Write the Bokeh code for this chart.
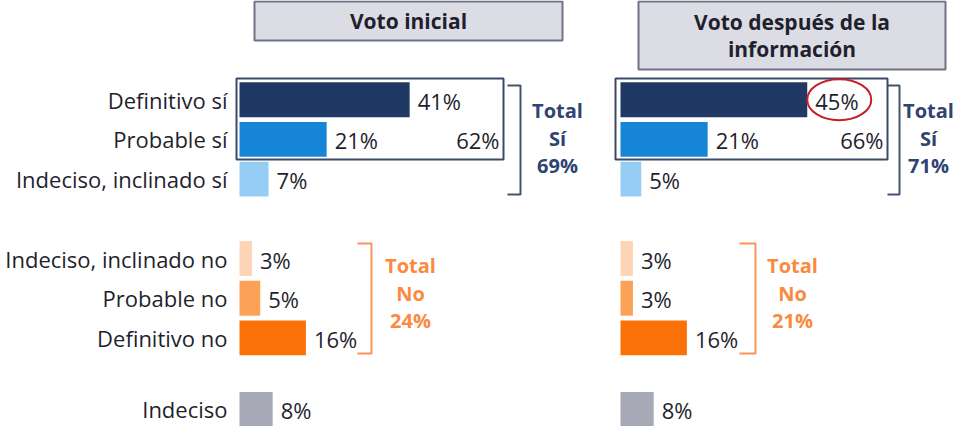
from bokeh.plotting import figure
from bokeh.models import Range1d, FixedTicker
from bokeh.embed import file_html
from bokeh.resources import INLINE
from bokeh.core.properties import value

# ---------------- data ----------------
categories = ["Definitivo sí", "Probable sí", "Indeciso, inclinado sí",
              "Indeciso, inclinado no", "Probable no", "Definitivo no", "Indeciso"]
row_pos = [0, 1, 2, 4, 5, 6, 7.8]
voto_inicial = [41, 21, 7, 3, 5, 16, 8]
voto_despues = [45, 21, 5, 3, 3, 16, 8]
bar_colors = ["#1f3864", "#1785d5", "#95cdf4", "#fdd5b6", "#fca257", "#fa7207", "#a8a9b6"]
titles_inicial = ["Voto inicial"]
titles_despues = ["Voto después de la", "información"]
box_totals = [62, 66]      # Definitivo sí + Probable sí
total_si = [69, 71]
total_no = [24, 21]

# ---------------- layout helpers (pixel -> data) ----------------
PX = 4.15            # pixels per percentage point
PITCH = 39.7         # pixels per row
ROW0 = 107.2         # image y of first row centre
LZERO, RZERO = 247, 628
FRAME_L, FRAME_R, FRAME_T, FRAME_B = 240, 966, 8, 434

def lx(px):
    return (px - LZERO) / PX

def rx(px):
    return (px - RZERO) / PX

def yy(py):
    return (py - ROW0) / PITCH

FONT = "Open Sans"
TXT = "#1f1f2e"
NAVY = "#2f4470"
ORANGE = "#f98a40"
FS = "22px"

p = figure(width=958, height=426, output_backend="svg", toolbar_location=None,
           x_range=Range1d(lx(FRAME_L), lx(FRAME_R)),
           y_range=Range1d(yy(FRAME_B), yy(FRAME_T)),
           x_axis_location=None,
           min_border_left=FRAME_L - 8, min_border_right=0,
           min_border_top=0, min_border_bottom=0)
p.extra_x_ranges = {"right": Range1d(rx(FRAME_L), rx(FRAME_R))}
p.outline_line_color = None
p.xgrid.visible = False
p.ygrid.visible = False
p.background_fill_color = "white"
p.border_fill_color = "white"

ax = p.yaxis[0]
ax.ticker = FixedTicker(ticks=row_pos)
ax.major_label_overrides = {r: c for r, c in zip(row_pos, categories)}
ax.axis_line_color = None
ax.major_tick_line_color = None
ax.minor_tick_line_color = None
ax.major_tick_out = 0
ax.major_tick_in = 0
ax.minor_tick_out = 0
ax.major_label_standoff = 5
ax.major_label_text_font = FONT
ax.major_label_text_font_size = FS
ax.major_label_text_color = TXT

panels = [
    dict(rng="default", X=lx, vals=voto_inicial, box=(244, 511), header=(262, 570, 9, 48),
         titles=titles_inicial, title_y=[28.5], brk_si=(515, 528), tsi_x=565,
         brk_no=(365, 379), tno_x=418, box_total=box_totals[0],
         tsi=total_si[0], tno=total_no[0]),
    dict(rng="right", X=rx, vals=voto_despues, box=(623, 895), header=(646, 953, 9, 77),
         titles=titles_despues, title_y=[29, 56], brk_si=(895, 907), tsi_x=936,
         brk_no=(747, 763), tno_x=800, box_total=box_totals[1],
         tsi=total_si[1], tno=total_no[1]),
]

for pn in panels:
    X = pn["X"]
    kw = dict(x_range_name=pn["rng"])
    # header box
    hl, hr, ht, hb = pn["header"]
    p.quad(left=X(hl), right=X(hr), top=yy(ht), bottom=yy(hb),
           fill_color="#dcdce4", line_color="#6f7484", line_width=2, **kw)
    p.text(x=[X((hl + hr) / 2)] * len(pn["titles"]), y=[yy(t) for t in pn["title_y"]],
           text=pn["titles"], text_align="center", text_baseline="middle",
           text_font=value(FONT), text_font_style="bold", text_font_size="21px",
           text_color=TXT, **kw)
    # bars
    p.hbar(y=row_pos, left=0, right=pn["vals"], height=0.88,
           fill_color=bar_colors, line_color=None, **kw)
    p.text(x=pn["vals"], y=row_pos, text=[f"{v}%" for v in pn["vals"]],
           x_offset=8, y_offset=1, text_baseline="middle", text_align="left",
           text_font=value(FONT), text_font_size=FS, text_color=TXT, **kw)
    # box around Definitivo + Probable sí
    bl, br = pn["box"]
    p.quad(left=X(bl), right=X(br), top=yy(86), bottom=yy(167),
           fill_color=None, line_color="#3b4a68", line_width=2, **kw)
    p.text(x=[X(br)], y=[row_pos[1]], text=[f"{pn['box_total']}%"], x_offset=-4, y_offset=1,
           text_align="right", text_baseline="middle",
           text_font=value(FONT), text_font_size=FS, text_color=TXT, **kw)
    # Sí bracket + total
    a, b = pn["brk_si"]
    p.line(x=[X(a), X(b), X(b), X(a)], y=[yy(93), yy(93), yy(202), yy(202)],
           line_color="#44536e", line_width=2, **kw)
    p.text(x=[X(pn["tsi_x"])] * 3, y=[yy(118), yy(146), yy(173)],
           text=["Total", "Sí", f"{pn['tsi']}%"], text_align="center", text_baseline="middle",
           text_font=value(FONT), text_font_style="bold", text_font_size="20px",
           text_color=NAVY, **kw)
    # No bracket + total
    a, b = pn["brk_no"]
    p.line(x=[X(a), X(b), X(b), X(a)], y=[yy(251), yy(251), yy(361), yy(361)],
           line_color="#f9935c", line_width=2, **kw)
    p.text(x=[X(pn["tno_x"])] * 3, y=[yy(273), yy(301), yy(328)],
           text=["Total", "No", f"{pn['tno']}%"], text_align="center", text_baseline="middle",
           text_font=value(FONT), text_font_style="bold", text_font_size="20px",
           text_color=ORANGE, **kw)

# red ellipse around the 45% label
p.ellipse(x=[voto_despues[0] + 32 / PX], y=[row_pos[0]], width=64, height=41,
          width_units="screen", height_units="screen",
          fill_color=None, line_color="#c51f2b", line_width=2, x_range_name="right")

open("out.html", "w").write(file_html(p, INLINE))
